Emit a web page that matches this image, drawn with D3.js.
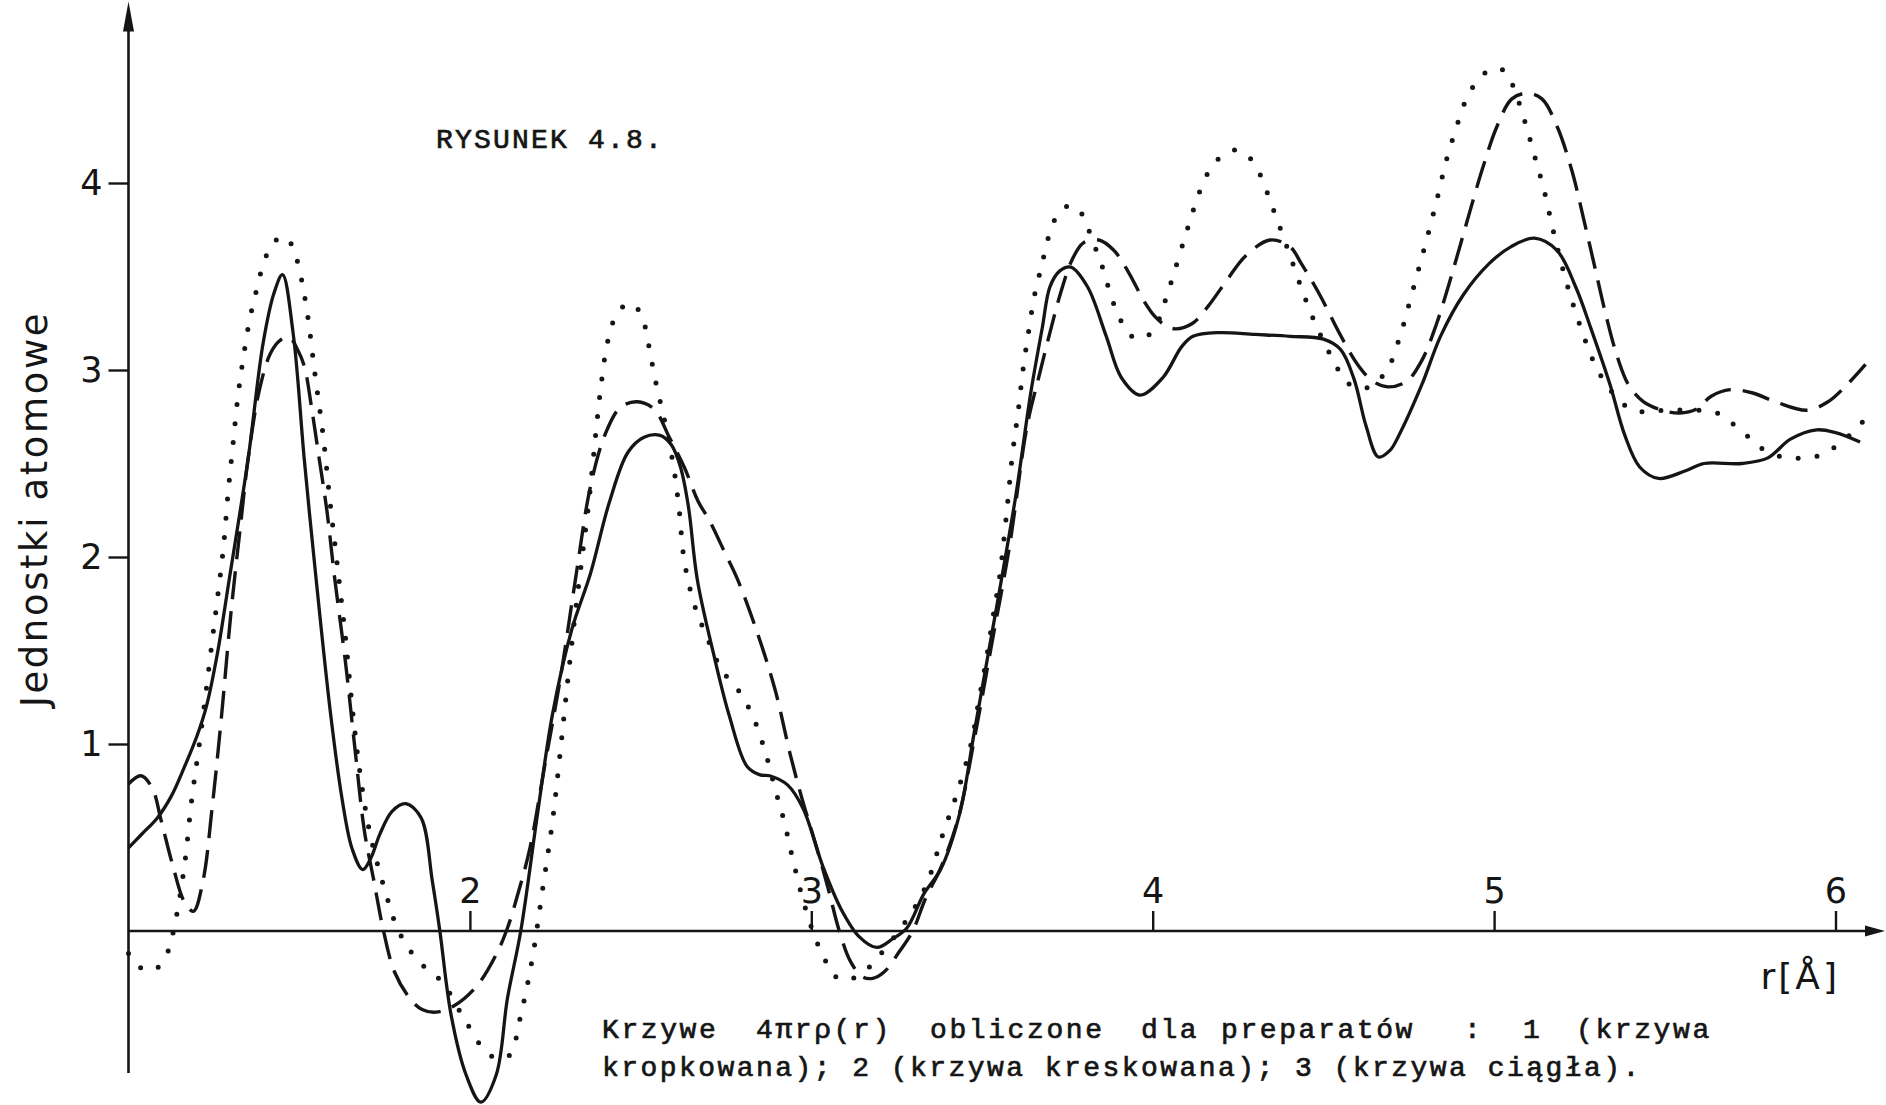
<!DOCTYPE html>
<html>
<head>
<meta charset="utf-8">
<script src="https://cdn.jsdelivr.net/npm/d3@7"></script>
<style>
  html, body { margin: 0; padding: 0; background: #fff; }
  svg { display: block; }
</style>
</head>
<body>
<svg id="chart" width="1886" height="1105"></svg>
<script>
// Radial distribution 4πrρ(r) for three preparations, r in Å.

const xTicks = [2, 3, 4, 5, 6];
const yTicks = [1, 2, 3, 4];

// preparat 1 (krzywa kropkowana)
const curveDotted = [
  [1.000,-0.120],[1.030,-0.190],[1.074,-0.210],[1.113,-0.120],[1.135,0.030],[1.163,0.337],
  [1.185,0.700],[1.206,0.980],[1.225,1.250],[1.245,1.550],[1.262,1.800],[1.278,2.050],
  [1.292,2.350],[1.306,2.600],[1.320,2.850],[1.335,3.050],[1.355,3.270],[1.374,3.420],
  [1.399,3.590],[1.425,3.680],[1.451,3.715],[1.478,3.670],[1.500,3.540],[1.524,3.300],
  [1.546,2.980],[1.570,2.650],[1.590,2.300],[1.612,1.950],[1.636,1.560],[1.658,1.150],
  [1.680,0.820],[1.708,0.516],[1.752,0.212],[1.790,0.005],[1.846,-0.155],[1.917,-0.270],
  [1.983,-0.468],[2.044,-0.640],[2.082,-0.683],[2.116,-0.665],[2.149,-0.450],[2.182,-0.155],
  [2.215,0.248],[2.242,0.588],[2.264,0.946],[2.286,1.330],[2.310,1.720],[2.330,2.020],
  [2.347,2.270],[2.360,2.500],[2.372,2.720],[2.385,2.930],[2.400,3.120],[2.420,3.260],
  [2.446,3.335],[2.470,3.357],[2.494,3.320],[2.512,3.240],[2.528,3.090],[2.545,2.930],
  [2.570,2.730],[2.595,2.500],[2.612,2.270],[2.628,1.980],[2.655,1.760],[2.690,1.590],
  [2.740,1.390],[2.779,1.305],[2.806,1.230],[2.834,1.125],[2.867,0.946],[2.894,0.760],
  [2.920,0.590],[2.945,0.390],[2.977,0.158],[3.010,-0.030],[3.038,-0.146],[3.065,-0.235],
  [3.104,-0.262],[3.159,-0.210],[3.200,-0.130],[3.252,-0.010],[3.302,0.123],[3.340,0.260],
  [3.385,0.516],[3.429,0.749],[3.468,1.000],[3.489,1.214],[3.512,1.447],[3.534,1.698],
  [3.552,1.900],[3.571,2.215],[3.589,2.545],[3.606,2.780],[3.620,3.000],[3.636,3.200],
  [3.654,3.400],[3.675,3.560],[3.693,3.700],[3.712,3.800],[3.735,3.860],[3.765,3.880],
  [3.796,3.825],[3.820,3.710],[3.851,3.560],[3.881,3.378],[3.905,3.270],[3.935,3.185],
  [3.975,3.170],[4.013,3.250],[4.040,3.390],[4.065,3.535],[4.096,3.720],[4.120,3.860],
  [4.151,4.015],[4.178,4.100],[4.211,4.155],[4.250,4.176],[4.288,4.127],[4.316,4.040],
  [4.345,3.900],[4.371,3.770],[4.402,3.614],[4.441,3.410],[4.479,3.236],[4.515,3.100],
  [4.551,2.980],[4.584,2.914],[4.628,2.905],[4.683,2.990],[4.721,3.160],[4.749,3.340],
  [4.782,3.560],[4.810,3.750],[4.837,3.945],[4.860,4.120],[4.890,4.300],[4.915,4.433],
  [4.942,4.525],[4.975,4.590],[5.014,4.614],[5.039,4.580],[5.060,4.497],[5.090,4.330],
  [5.118,4.148],[5.146,3.964],[5.179,3.700],[5.215,3.450],[5.255,3.220],[5.295,3.030],
  [5.328,2.925],[5.361,2.850],[5.400,2.790],[5.444,2.775],[5.500,2.785],[5.570,2.785],
  [5.636,2.780],[5.675,2.750],[5.713,2.690],[5.746,2.640],[5.780,2.585],[5.824,2.545],
  [5.863,2.530],[5.912,2.530],[5.956,2.545],[6.000,2.590],[6.055,2.675],[6.088,2.740]
];

// preparat 2 (krzywa kreskowana)
const curveDashed = [
  [1.000,0.786],[1.036,0.830],[1.069,0.767],[1.096,0.588],[1.129,0.355],[1.163,0.158],
  [1.190,0.105],[1.218,0.266],[1.245,0.660],[1.273,1.160],[1.300,1.700],[1.330,2.200],
  [1.350,2.520],[1.383,2.890],[1.416,3.090],[1.445,3.160],[1.471,3.175],[1.495,3.110],
  [1.515,3.020],[1.537,2.790],[1.559,2.520],[1.581,2.250],[1.603,1.900],[1.636,1.430],
  [1.663,0.980],[1.691,0.535],[1.719,0.266],[1.747,0.000],[1.779,-0.218],[1.824,-0.360],
  [1.860,-0.420],[1.901,-0.434],[1.956,-0.397],[2.022,-0.290],[2.077,-0.126],[2.110,0.016],
  [2.143,0.214],[2.176,0.444],[2.220,0.893],[2.264,1.340],[2.310,1.890],[2.353,2.376],
  [2.397,2.660],[2.441,2.800],[2.490,2.830],[2.540,2.790],[2.584,2.640],[2.628,2.480],
  [2.668,2.300],[2.703,2.190],[2.745,2.030],[2.784,1.880],[2.839,1.610],[2.894,1.290],
  [2.938,0.946],[2.972,0.713],[3.016,0.444],[3.049,0.230],[3.082,0.000],[3.115,-0.164],
  [3.150,-0.245],[3.180,-0.253],[3.214,-0.218],[3.258,-0.110],[3.297,0.000],[3.335,0.176],
  [3.379,0.337],[3.430,0.600],[3.480,1.050],[3.530,1.550],[3.580,2.050],[3.632,2.700],
  [3.666,2.960],[3.699,3.200],[3.730,3.410],[3.764,3.590],[3.797,3.680],[3.842,3.695],
  [3.886,3.640],[3.930,3.520],[3.974,3.370],[4.007,3.285],[4.040,3.235],[4.068,3.220],
  [4.117,3.250],[4.162,3.340],[4.217,3.480],[4.272,3.610],[4.344,3.695],[4.402,3.660],
  [4.435,3.570],[4.490,3.400],[4.546,3.200],[4.600,3.030],[4.645,2.940],[4.689,2.910],
  [4.744,2.940],[4.788,3.050],[4.832,3.250],[4.876,3.510],[4.920,3.790],[4.964,4.065],
  [5.009,4.305],[5.052,4.450],[5.096,4.480],[5.140,4.450],[5.184,4.305],[5.228,4.065],
  [5.262,3.810],[5.295,3.550],[5.328,3.290],[5.361,3.070],[5.394,2.920],[5.438,2.830],
  [5.493,2.785],[5.543,2.770],[5.592,2.790],[5.636,2.860],[5.691,2.895],[5.758,2.877],
  [5.824,2.830],[5.917,2.785],[5.978,2.830],[6.033,2.920],[6.088,3.030]
];

// preparat 3 (krzywa ciągła)
const curveSolid = [
  [1.000,0.445],[1.040,0.520],[1.085,0.606],[1.125,0.720],[1.163,0.874],[1.200,1.040],
  [1.228,1.200],[1.260,1.480],[1.295,1.880],[1.350,2.520],[1.394,3.140],[1.426,3.410],
  [1.451,3.510],[1.482,3.200],[1.515,2.520],[1.548,1.910],[1.592,1.160],[1.625,0.713],
  [1.655,0.440],[1.686,0.328],[1.710,0.390],[1.736,0.517],[1.772,0.640],[1.812,0.681],
  [1.857,0.606],[1.890,0.266],[1.912,0.000],[1.945,-0.450],[1.989,-0.770],[2.032,-0.915],
  [2.077,-0.770],[2.110,-0.360],[2.149,0.000],[2.198,0.626],[2.242,1.160],[2.298,1.610],
  [2.353,1.910],[2.408,2.290],[2.463,2.560],[2.510,2.640],[2.557,2.650],[2.590,2.600],
  [2.617,2.480],[2.640,2.270],[2.666,1.880],[2.714,1.480],[2.760,1.150],[2.812,0.880],
  [2.850,0.835],[2.878,0.830],[2.931,0.780],[2.976,0.655],[3.034,0.345],[3.087,0.118],
  [3.140,-0.030],[3.192,-0.088],[3.240,-0.040],[3.280,0.016],[3.330,0.200],[3.379,0.330],
  [3.434,0.624],[3.478,1.070],[3.522,1.520],[3.557,1.880],[3.600,2.340],[3.643,2.880],
  [3.677,3.230],[3.699,3.445],[3.728,3.530],[3.760,3.550],[3.809,3.445],[3.864,3.180],
  [3.908,2.960],[3.963,2.866],[4.030,2.960],[4.085,3.125],[4.118,3.180],[4.194,3.200],
  [4.300,3.190],[4.402,3.180],[4.500,3.165],[4.550,3.110],[4.590,2.950],[4.625,2.700],
  [4.661,2.535],[4.695,2.570],[4.721,2.650],[4.788,2.920],[4.843,3.180],[4.909,3.400],
  [4.986,3.570],[5.050,3.660],[5.118,3.705],[5.184,3.640],[5.240,3.440],[5.284,3.220],
  [5.339,2.925],[5.383,2.650],[5.427,2.480],[5.482,2.420],[5.559,2.460],[5.615,2.500],
  [5.725,2.500],[5.802,2.530],[5.868,2.630],[5.945,2.680],[6.000,2.665],[6.072,2.615]
];

const yAxisTitle = "Jednostki atomowe";
const xAxisTitle = "r[Å]";
const figureTitle = "RYSUNEK 4.8.";
const captionLine1Words = ["Krzywe", "4πrρ(r)", "obliczone", "dla", "preparatów", ":", "1", "(krzywa"];
const captionLine2 = "kropkowana); 2 (krzywa kreskowana); 3 (krzywa ciągła).";

// ---- layout ----
const W = 1886, H = 1105;
const ink = "#151515";
const plotFont = "'DejaVu Sans', sans-serif";
const typeFont = "'Liberation Mono', 'DejaVu Sans Mono', monospace";
const yAxisExtent = [-0.76, 4.97];
const xAxisEnd = 6.145;
const captionLine1X = [602, 756, 930, 1141, 1221, 1464, 1523, 1576];

const svg = d3.select("#chart");
svg.append("rect").attr("width", W).attr("height", H).attr("fill", "#fff");

const x = d3.scaleLinear().domain([1, 6]).range([128.5, 1835.5]);
const y = d3.scaleLinear().domain([0, 4]).range([931, 183]);

// axes with ticks
const gx = svg.append("g")
  .attr("transform", `translate(0,${y(0)})`)
  .call(d3.axisTop(x).tickValues(xTicks).tickSize(20).tickPadding(8).tickFormat(d3.format("d")));
const gy = svg.append("g")
  .attr("transform", `translate(${x(1)},0)`)
  .call(d3.axisLeft(y).tickValues(yTicks).tickSize(20).tickPadding(6).tickFormat(d3.format("d")));

[gx, gy].forEach(g => {
  g.select(".domain").remove();
  g.selectAll(".tick line").attr("stroke", ink).attr("stroke-width", 2.4);
  g.selectAll(".tick text")
    .attr("fill", ink)
    .attr("font-family", plotFont)
    .attr("font-size", 35);
});

// axis lines with arrowheads
const x0 = x(1), yTop = y(yAxisExtent[1]), yBot = y(yAxisExtent[0]);
const xEnd = x(xAxisEnd), yZero = y(0);
svg.append("line")
  .attr("x1", x0).attr("y1", yBot).attr("x2", x0).attr("y2", yTop + 20)
  .attr("stroke", ink).attr("stroke-width", 2.6);
svg.append("path")
  .attr("d", `M${x0 - 5.5},${yTop + 30} L${x0},${yTop} L${x0 + 5.5},${yTop + 30} Z`)
  .attr("fill", ink);
svg.append("line")
  .attr("x1", x0).attr("y1", yZero).attr("x2", xEnd - 12).attr("y2", yZero)
  .attr("stroke", ink).attr("stroke-width", 2.6);
svg.append("path")
  .attr("d", `M${xEnd - 20},${yZero - 5.5} L${xEnd},${yZero} L${xEnd - 20},${yZero + 5.5} Z`)
  .attr("fill", ink);

// curves
const line = d3.line()
  .x(d => x(d[0]))
  .y(d => y(d[1]))
  .curve(d3.curveCatmullRom.alpha(0.5));

const curves = svg.append("g").attr("fill", "none").attr("stroke", ink);
curves.append("path")
  .datum(curveSolid)
  .attr("d", line)
  .attr("stroke-width", 3.3)
  .attr("stroke-linejoin", "round");
curves.append("path")
  .datum(curveDashed)
  .attr("d", line)
  .attr("stroke-width", 3.4)
  .attr("stroke-dasharray", "28 12");
curves.append("path")
  .datum(curveDotted)
  .attr("d", line)
  .attr("stroke-width", 5)
  .attr("stroke-linecap", "round")
  .attr("stroke-dasharray", "0 19");

// axis titles
svg.append("text")
  .attr("transform", `translate(47,509) rotate(-90)`)
  .attr("text-anchor", "middle")
  .attr("font-family", plotFont)
  .attr("font-size", 37)
  .attr("letter-spacing", 2.6)
  .attr("fill", ink)
  .text(yAxisTitle);

svg.append("text")
  .attr("x", 1840).attr("y", 989)
  .attr("text-anchor", "end")
  .attr("font-family", plotFont)
  .attr("font-size", 36)
  .attr("letter-spacing", 3)
  .attr("fill", ink)
  .text(xAxisTitle);

// figure label and caption in typewriter face
svg.append("text")
  .attr("x", 436).attr("y", 148)
  .attr("font-family", typeFont)
  .attr("font-size", 28)
  .attr("letter-spacing", 2.2)
  .attr("stroke", ink)
  .attr("stroke-width", 0.7)
  .attr("fill", ink)
  .text(figureTitle);

const cap1 = svg.append("text")
  .attr("y", 1038)
  .attr("font-family", typeFont)
  .attr("font-size", 28)
  .attr("letter-spacing", 2.6)
  .attr("stroke", ink)
  .attr("stroke-width", 0.7)
  .attr("fill", ink);
cap1.selectAll("tspan")
  .data(captionLine1Words)
  .join("tspan")
  .attr("x", (d, i) => captionLine1X[i])
  .text(d => d);

svg.append("text")
  .attr("x", 602).attr("y", 1076)
  .attr("font-family", typeFont)
  .attr("font-size", 28)
  .attr("letter-spacing", 2.45)
  .attr("stroke", ink)
  .attr("stroke-width", 0.7)
  .attr("fill", ink)
  .text(captionLine2);
</script>
</body>
</html>
